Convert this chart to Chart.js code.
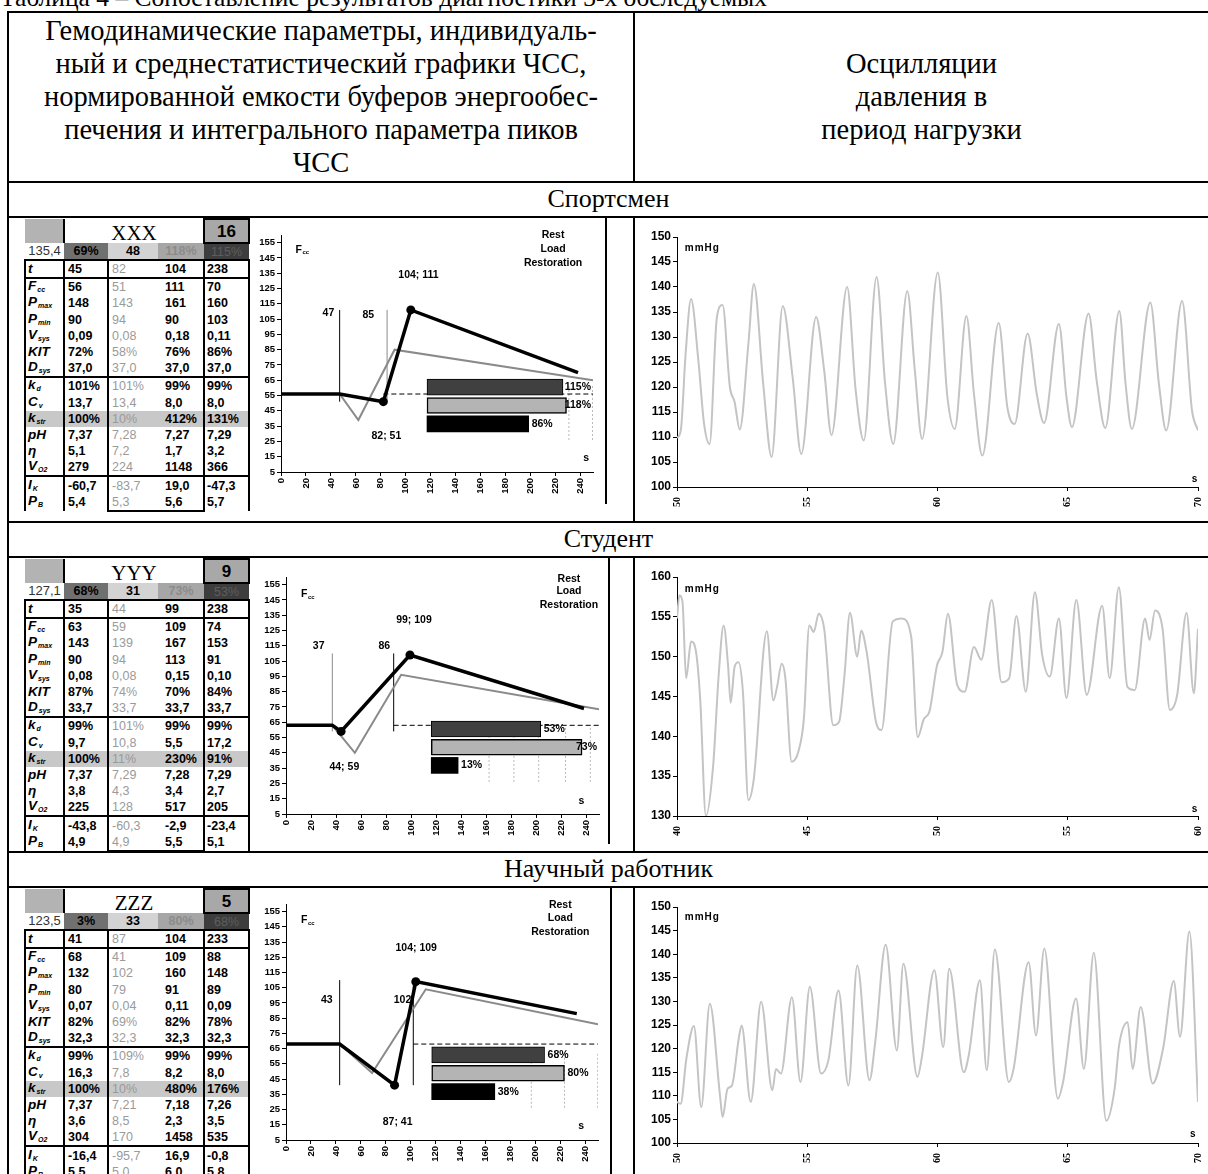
<!DOCTYPE html>
<html lang="ru">
<head>
<meta charset="utf-8">
<title>Таблица 4</title>
<script src="https://cdn.jsdelivr.net/npm/chart.js@4.4.1/dist/chart.umd.min.js"></script>
<style>
  html, body { margin: 0; padding: 0; background: #fff; }
  body { width: 1208px; height: 1174px; position: relative; overflow: hidden;
         font-family: "Liberation Serif", "Times New Roman", serif; color: #000; }
  .ln { position: absolute; background: #000; }
  .txt { position: absolute; white-space: nowrap; text-align: center; }
  canvas { position: absolute; }
  table.dt { position: absolute; left: 24px; width: 224px; border-collapse: collapse; table-layout: fixed;
             font-family: "Liberation Sans", Arial, sans-serif; }
  table.dt td { padding: 0 0 0 3px; height: 16.2px; font-size: 12.5px; font-weight: bold; line-height: 12px;
                white-space: nowrap; overflow: hidden; vertical-align: middle; }
  table.dt tr.hr1 td { height: 22px; }
  table.dt tr.hr2 td { height: 15px; padding: 0 2px; text-align: center; }
  table.dt td.g0 { background: #b3b3b3; }
  table.dt td.code { text-align: center; font: 21px/20px "Liberation Serif", serif; border-left: 2px solid #000;
                     vertical-align: bottom; padding: 0; }
  table.dt td.score { background: #a8a8a8; border: 2px solid #000; text-align: center; font-size: 17px;
                      line-height: 17px; padding: 0; }
  table.dt td.h0 { background: #fff; color: #333; font-weight: normal; font-size: 13px; }
  table.dt td.h1 { background: #707070; color: #000; }
  table.dt td.h2 { background: #d3d3d3; color: #000; }
  table.dt td.h3 { background: #a6a6a6; color: #8c8c8c; }
  table.dt td.h4 { background: #3d3d3d; color: #5e5e5e; font-weight: normal; }
  table.dt td.lab { border-left: 2px solid #000; border-right: 2px solid #000; font-style: italic;
                    font-size: 13.5px; padding-left: 2px; }
  table.dt td.lab sub { font-size: 7px; font-style: italic; vertical-align: baseline; position: relative;
                        top: 2px; margin-left: 1px; }
  table.dt td.v1 { border-right: 2px solid #000; }
  table.dt td.v2 { color: #9a9a9a; font-weight: normal; }
  table.dt td.v3 { border-right: 2px solid #000; padding-left: 7px; }
  table.dt td.v4 { border-right: 2px solid #000; padding-left: 2px; }
  table.dt tr.tl td { border-top: 2px solid #000; }
  table.dt tr.str td { background: #c8c8c8; }
  table.dt tr.last td.v2, table.dt tr.last td.v3 { border-bottom: 2px solid #000; }
</style>
</head>
<body>

<div class="txt" style="left:0;top:-17px;font-size:25.5px;text-align:left">Таблица 4 – Сопоставление результатов диагностики 3-х обследуемых</div>

<!-- outer frame of the table -->
<div class="ln" style="left:7px;top:11px;width:1201px;height:2px"></div>
<div class="ln" style="left:7px;top:11px;width:2px;height:1163px"></div>
<div class="ln" style="left:633px;top:11px;width:2px;height:171px"></div>
<div class="ln" style="left:7px;top:181px;width:1201px;height:2px"></div>
<div class="ln" style="left:7px;top:216px;width:1201px;height:2px"></div>
<div class="ln" style="left:7px;top:521px;width:1201px;height:2px"></div>
<div class="ln" style="left:7px;top:556px;width:1201px;height:2px"></div>
<div class="ln" style="left:7px;top:851px;width:1201px;height:2px"></div>
<div class="ln" style="left:7px;top:886px;width:1201px;height:2px"></div>
<div class="ln" style="left:633px;top:216px;width:2px;height:306px"></div>
<div class="ln" style="left:633px;top:556px;width:2px;height:296px"></div>
<div class="ln" style="left:633px;top:886px;width:2px;height:288px"></div>
<!-- right edges of the embedded pictures -->
<div class="ln" style="left:605px;top:216px;width:2px;height:288px"></div>
<div class="ln" style="left:608px;top:556px;width:2px;height:288px"></div>
<div class="ln" style="left:610px;top:886px;width:2px;height:288px"></div>

<div class="txt" style="left:9px;width:624px;top:14px;font-size:28.5px;line-height:33px">
  Гемодинамические параметры, индивидуаль-<br>ный и среднестатистический графики ЧСС,<br>нормированной емкости буферов энергообес-<br>печения и интегрального параметра пиков<br>ЧСС
</div>
<div class="txt" style="left:635px;width:573px;top:47px;font-size:28.5px;line-height:33px">
  Осцилляции<br>давления в<br>период нагрузки
</div>
<div class="txt" style="left:9px;width:1199px;top:182px;font-size:26px;line-height:34px">Спортсмен</div>
<div class="txt" style="left:9px;width:1199px;top:522px;font-size:26px;line-height:34px">Студент</div>
<div class="txt" style="left:9px;width:1199px;top:852px;font-size:26px;line-height:34px">Научный работник</div>

<div id="tables"></div>

<canvas id="hr1" width="356" height="286" style="left:250px;top:218px"></canvas>
<canvas id="hr2" width="359" height="284" style="left:250px;top:558px"></canvas>
<canvas id="hr3" width="360" height="286" style="left:250px;top:888px"></canvas>
<canvas id="bp1" width="572" height="303" style="left:636px;top:218px"></canvas>
<canvas id="bp2" width="572" height="294" style="left:636px;top:558px"></canvas>
<canvas id="bp3" width="572" height="286" style="left:636px;top:888px"></canvas>

<script>
// ---------- tables: row names ----------
const rowLabels = [['t',''],['F','cc'],['P','max'],['P','min'],['V','sys'],['KIT',''],['D','sys'],
                   ['k','d'],['C','v'],['k','str'],['pH',''],['η',''],['V','O2'],['I','K'],['P','B']];
const topLineRows = [0, 1, 7, 13];

// ---------- Спортсмен ----------
const sportCode = 'XXX', sportScore = '16';
const sportHead = ['135,4', '69%', '48', '118%', '115%'];
const sportRows = [
  ['45','82','104','238'], ['56','51','111','70'], ['148','143','161','160'], ['90','94','90','103'],
  ['0,09','0,08','0,18','0,11'], ['72%','58%','76%','86%'], ['37,0','37,0','37,0','37,0'],
  ['101%','101%','99%','99%'], ['13,7','13,4','8,0','8,0'], ['100%','10%','412%','131%'],
  ['7,37','7,28','7,27','7,29'], ['5,1','7,2','1,7','3,2'], ['279','224','1148','366'],
  ['-60,7','-83,7','19,0','-47,3'], ['5,4','5,3','5,6','5,7']
];
const sportIndT = [0, 47, 82, 104, 238];
const sportIndF = [56, 56, 51, 111, 70];
const sportAvgT = [0, 47, 62, 91, 250];
const sportAvgF = [56, 56, 39, 85, 65];
const sportMarkT = [47, 85], sportMarkLow = [51, 51], sportMarkHigh = [111, 111];
const sportBars = [115, 118, 86];
const sportBarGrid = [120, 140];
const sportPT = [50.00,50.15,50.33,50.54,50.82,51.04,51.25,51.53,51.75,52.03,52.21,52.41,52.74,52.95,53.31,53.63,
  54.06,54.44,54.77,55.34,55.65,55.93,56.53,56.86,57.17,57.66,57.99,58.30,58.84,59.13,59.41,60.01,60.38,60.66,
  61.11,61.40,61.72,62.35,62.68,62.96,63.46,63.81,64.09,64.66,64.95,65.16,65.80,66.11,66.44,66.98,67.22,67.46,
  68.17,68.50,68.78,69.39,69.77,70.00];
const sportP = [109.8,111.5,126.6,137.6,125.3,112.6,108.6,133.9,136.4,120.0,117.0,111.5,128.6,140.6,120.6,106.0,
  136.2,121.9,106.6,134.0,123.3,110.4,140.0,119.3,109.3,142.0,120.6,108.6,139.2,123.3,109.6,142.9,118.0,111.6,
  134.2,118.6,106.3,132.8,116.0,112.6,130.7,118.6,112.8,132.6,118.0,112.0,134.7,121.3,111.8,135.2,120.6,111.6,
  136.9,120.6,111.3,137.2,115.3,111.3];

// ---------- Студент ----------
const stuCode = 'YYY', stuScore = '9';
const stuHead = ['127,1', '68%', '31', '73%', '53%'];
const stuRows = [
  ['35','44','99','238'], ['63','59','109','74'], ['143','139','167','153'], ['90','94','113','91'],
  ['0,08','0,08','0,15','0,10'], ['87%','74%','70%','84%'], ['33,7','33,7','33,7','33,7'],
  ['99%','101%','99%','99%'], ['9,7','10,8','5,5','17,2'], ['100%','11%','230%','91%'],
  ['7,37','7,29','7,28','7,29'], ['3,8','4,3','3,4','2,7'], ['225','128','517','205'],
  ['-43,8','-60,3','-2,9','-23,4'], ['4,9','4,9','5,5','5,1']
];
const stuIndT = [0, 37, 44, 99, 238];
const stuIndF = [63, 63, 59, 109, 74];
const stuAvgT = [0, 37, 55, 92, 250];
const stuAvgF = [63, 63, 45, 96, 73.5];
const stuMarkT = [37, 86], stuMarkLow = [59, 59], stuMarkHigh = [110, 110];
const stuBars = [53, 73, 13];
const stuBarGrid = [28, 40, 52, 65, 77];
const stuPT = [40.00,40.09,40.21,40.35,40.54,40.72,40.89,41.11,41.39,41.60,41.79,41.96,42.06,42.21,42.36,42.53,
  42.74,42.95,43.45,43.70,43.84,44.02,44.16,44.40,44.66,44.87,45.08,45.25,45.44,45.65,46.00,46.22,46.43,46.64,
  46.92,47.07,47.28,47.64,47.85,48.28,48.63,48.99,49.24,49.48,49.69,49.98,50.19,50.40,50.76,51.04,51.40,51.68,
  52.08,52.46,52.75,53.03,53.39,53.74,54.02,54.31,54.66,54.95,55.33,55.73,56.32,56.61,56.96,57.29,57.57,57.97,
  58.14,58.35,58.64,58.92,59.20,59.56,59.84,60.00];
const stuP = [154.8,157.7,156.9,147.3,151.9,150.8,144.7,130.0,136.4,147.7,153.9,148.9,144.2,148.7,149.3,145.6,
  132.0,134.7,153.2,144.5,146.2,149.1,147.3,136.8,138.1,142.2,153.9,153.1,155.4,153.5,141.4,141.8,147.7,155.5,
  150.0,153.3,150.6,141.8,140.8,154.4,154.8,152.5,139.9,142.2,143.1,148.9,150.6,155.4,146.4,145.6,151.2,149.6,
  157.1,146.8,147.3,155.1,145.6,158.1,150.2,147.5,154.8,144.8,157.1,145.2,156.4,147.3,158.7,146.2,145.8,154.8,
  152.1,155.8,153.5,143.3,145.2,155.5,145.4,153.5];

// ---------- Научный работник ----------
const sciCode = 'ZZZ', sciScore = '5';
const sciHead = ['123,5', '3%', '33', '80%', '68%'];
const sciRows = [
  ['41','87','104','233'], ['68','41','109','88'], ['132','102','160','148'], ['80','79','91','89'],
  ['0,07','0,04','0,11','0,09'], ['82%','69%','82%','78%'], ['32,3','32,3','32,3','32,3'],
  ['99%','109%','99%','99%'], ['16,3','7,8','8,2','8,0'], ['100%','10%','480%','176%'],
  ['7,37','7,21','7,18','7,26'], ['3,6','8,5','2,3','3,5'], ['304','170','1458','535'],
  ['-16,4','-95,7','16,9','-0,8'], ['5,5','5,0','6,0','5,8']
];
const sciIndT = [0, 43, 87, 104, 233];
const sciIndF = [68, 68, 41, 109, 88];
const sciAvgT = [0, 43, 69, 112, 250];
const sciAvgF = [68, 68, 49, 104, 81];
const sciMarkT = [43, 102], sciMarkLow = [41, 41], sciMarkHigh = [110, 110];
const sciBars = [68, 80, 38];
const sciBarGrid = [60, 80, 100];
const sciPT = [50.00,50.14,50.36,50.65,50.93,51.26,51.65,51.75,51.94,52.11,52.37,52.48,52.83,53.23,53.66,53.80,
  53.99,54.41,54.74,55.10,55.53,55.81,56.20,56.58,56.92,57.39,57.61,58.01,58.44,58.69,59.23,59.40,59.88,60.22,
  60.45,61.01,61.20,61.63,61.89,62.20,62.74,62.92,63.50,63.78,64.10,64.62,64.82,65.32,65.62,66.00,66.48,66.80,
  66.97,67.30,67.49,67.80,68.26,68.66,69.07,69.31,69.67,70.00];
const sciP = [108.7,108.3,117.9,124.8,107.6,129.5,110.1,105.5,111.5,112.2,122.1,124.9,108.7,129.9,111.2,115.7,
  114.7,130.9,112.9,133.1,114.7,117.5,132.3,112.2,137.6,113.3,121.4,142.0,119.6,138.0,114.0,118.2,136.6,120.3,
  136.9,115.0,118.6,134.5,115.4,141.0,112.9,115.7,138.3,122.8,141.2,109.4,112.9,130.6,115.7,140.3,104.7,111.5,
  120.7,125.6,115.7,128.8,112.6,120.0,134.3,122.5,144.8,108.7];

// ---------- axis ticks ----------
const hrXTicks = [0, 20, 40, 60, 80, 100, 120, 140, 160, 180, 200, 220, 240];
const hrYTicks = [5, 15, 25, 35, 45, 55, 65, 75, 85, 95, 105, 115, 125, 135, 145, 155];
const barFill = ['#404040', '#b4b4b4', '#000000'];

// ---------- build the three small tables ----------
function buildTable(top, code, score, head, rows) {
  let h = `<table class="dt" style="top:${top}px">` +
    '<colgroup><col style="width:39px"><col style="width:44px"><col style="width:50px"><col style="width:46px"><col style="width:45px"></colgroup>' +
    `<tr class="hr1"><td class="g0"></td><td colspan="3" class="code">${code}</td><td class="score">${score}</td></tr>` +
    '<tr class="hr2">' + head.map((v, i) => `<td class="h${i}">${v}</td>`).join('') + '</tr>';
  rows.forEach((r, ri) => {
    const [a, b] = rowLabels[ri];
    const cls = [];
    if (topLineRows.includes(ri)) cls.push('tl');
    if (ri === 9) cls.push('str');
    if (ri === rows.length - 1) cls.push('last');
    h += `<tr class="${cls.join(' ')}"><td class="lab">${a}${b ? '<sub>' + b + '</sub>' : ''}</td>` +
         r.map((v, i) => `<td class="v${i + 1}">${v}</td>`).join('') + '</tr>';
  });
  return h + '</table>';
}
document.getElementById('tables').innerHTML =
  buildTable(218, sportCode, sportScore, sportHead, sportRows) +
  buildTable(558, stuCode, stuScore, stuHead, stuRows) +
  buildTable(888, sciCode, sciScore, sciHead, sciRows);

// ---------- charts ----------
Chart.defaults.font.family = '"Liberation Sans", Arial, sans-serif';
Chart.defaults.color = '#000';
Chart.defaults.animation = false;

const xy = (xs, ys) => xs.map((x, i) => ({ x, y: ys[i] }));
const noteFont = 'bold 10.5px "Liberation Sans"';

// text notes placed in data coordinates + value labels at the bar ends
const notesPlugin = {
  id: 'notes',
  afterDatasetsDraw(chart, _a, opts) {
    const { ctx, chartArea } = chart;
    ctx.save();
    ctx.textBaseline = 'middle';
    (opts.items || []).forEach(n => {
      const px = chart.scales.x.getPixelForValue(n.x);
      const py = chart.scales.y.getPixelForValue(n.y);
      ctx.font = n.font || noteFont;
      ctx.letterSpacing = n.spacing || '0px';
      ctx.fillStyle = '#000';
      ctx.textAlign = n.align || 'left';
      ctx.fillText(n.text, px, py);
      if (n.sub) {
        const w = ctx.measureText(n.text).width;
        ctx.font = 'bold 6px "Liberation Sans"';
        ctx.fillText(n.sub, px + w + 0.5, py + 3);
      }
    });
    ctx.letterSpacing = '0px';
    chart.data.datasets.forEach((ds, di) => {
      if (ds.type !== 'bar') return;
      chart.getDatasetMeta(di).data.forEach((el, i) => {
        const txt = ds.data[i].x + '%';
        ctx.font = noteFont;
        ctx.textAlign = 'left';
        const w = ctx.measureText(txt).width;
        const px = Math.min(el.x + 3, chartArea.right - w - 2);
        ctx.fillText(txt, px, el.y);
      });
    });
    ctx.restore();
  }
};

// helper scale for the inset bar chart: laid out like a real axis but with zero size
const fixedScale = (axis, min, max, reverse) => ({
  type: 'linear', axis, position: axis === 'x' ? 'bottom' : 'left', display: true,
  offset: false, bounds: 'data', reverse: !!reverse, min, max,
  ticks: { display: false }, grid: { display: false, drawTicks: false }, border: { display: false },
  afterBuildTicks: a => { a.min = min; a.max = max; },
  afterFit: a => { if (axis === 'x') a.height = 0; else a.width = 0; }
});

function hrChart(id, s) {
  const datasets = [];
  s.barGrid.forEach(g => datasets.push({
    type: 'line', data: [{ x: g, y: 0.5 }, { x: g, y: 3.5 }], xAxisID: 'xb', yAxisID: 'yb',
    borderColor: '#b8b8b8', borderWidth: 1, borderDash: [2, 2], pointRadius: 0, order: 20
  }));
  datasets.push({ type: 'line', data: [{ x: s.dashFrom, y: s.indF[0] }, { x: 250, y: s.indF[0] }],
    borderColor: '#000', borderWidth: 1, borderDash: [5, 3], pointRadius: 0, order: 15 });
  s.markT.forEach((t, i) => datasets.push({
    type: 'line', data: [{ x: t, y: s.markLow[i] }, { x: t, y: s.markHigh[i] }],
    borderColor: s.markColor[i], borderWidth: 1, pointRadius: 0, order: 12
  }));
  datasets.push({ type: 'line', data: xy(s.avgT, s.avgF), borderColor: '#8a8a8a', borderWidth: 2,
    pointRadius: 0, order: 10 });
  datasets.push({ type: 'bar', indexAxis: 'y', data: s.bars.map((p, i) => ({ x: p, y: i + 1 })),
    xAxisID: 'xb', yAxisID: 'yb', backgroundColor: barFill, borderColor: '#000',
    borderWidth: [1, 1.5, 0], borderSkipped: false, barThickness: 16, order: 5 });
  datasets.push({ type: 'line', data: xy(s.indT, s.indF), borderColor: '#000', borderWidth: 3.5,
    pointRadius: s.indT.map((_, i) => (i === 2 || i === 3) ? 4.5 : 0), pointBackgroundColor: '#000',
    pointBorderWidth: 0, order: 1 });

  const axisTicks = { font: { size: 9.5, weight: 'bold' }, color: '#000', autoSkip: false, padding: 2 };
  const axisGrid = { drawOnChartArea: false, drawTicks: true, tickLength: 4, color: '#000' };
  return new Chart(document.getElementById(id), {
    type: 'line',
    data: { datasets },
    options: {
      responsive: false, animation: false, devicePixelRatio: 1,
      layout: { padding: { top: s.padTop, right: s.padRight, left: 0, bottom: 0 } },
      plugins: { legend: { display: false }, tooltip: { enabled: false }, notes: { items: s.notes } },
      scales: {
        x: { type: 'linear', position: 'bottom', min: 0, max: 250, offset: false,
             afterBuildTicks: a => { a.ticks = hrXTicks.map(v => ({ value: v })); },
             afterFit: a => { a.height = s.xh; a.paddingLeft = 0; a.paddingRight = 0; },
             ticks: { ...axisTicks, minRotation: 90, maxRotation: 90 }, grid: axisGrid, border: { color: '#000' } },
        y: { type: 'linear', position: 'left', min: 5, max: 160, offset: false,
             afterBuildTicks: a => { a.ticks = hrYTicks.map(v => ({ value: v })); },
             afterFit: a => { a.width = s.yw; },
             ticks: axisTicks, grid: axisGrid, border: { color: '#000' } },
        xb: fixedScale('x', s.barMin, s.barMax, false),
        yb: fixedScale('y', s.barTop, s.barBottom, true)
      }
    },
    plugins: [notesPlugin]
  });
}

function pressureChart(id, s) {
  return new Chart(document.getElementById(id), {
    type: 'line',
    data: { datasets: [{ data: xy(s.t, s.p), borderColor: '#c4c4c4', borderWidth: 2, pointRadius: 0,
                         cubicInterpolationMode: 'monotone' }] },
    options: {
      responsive: false, animation: false, devicePixelRatio: 1,
      layout: { padding: { top: s.padTop, right: 10, left: 0, bottom: 0 } },
      plugins: { legend: { display: false }, tooltip: { enabled: false }, notes: { items: s.notes } },
      scales: {
        x: { type: 'linear', min: s.xTicks[0], max: s.xTicks[s.xTicks.length - 1],
             afterBuildTicks: a => { a.ticks = s.xTicks.map(v => ({ value: v })); },
             afterFit: a => { a.height = s.xh; a.paddingLeft = 0; a.paddingRight = 0; },
             ticks: { font: { family: '"Liberation Serif"', size: 10, weight: 'bold' }, color: '#000',
                      minRotation: 90, maxRotation: 90, autoSkip: false, padding: 6 },
             grid: { drawOnChartArea: false, tickLength: 4, color: '#000' }, border: { color: '#000' } },
        y: { type: 'linear', min: s.yMin, max: s.yMax,
             afterFit: a => { a.width = 41; },
             ticks: { stepSize: 5, font: { family: '"Liberation Sans Narrow", "Liberation Sans"', size: 12, weight: 'bold' },
                      color: '#000', padding: 2, autoSkip: false },
             grid: { drawOnChartArea: false, tickLength: 4, color: '#000' }, border: { color: '#000' } }
      }
    },
    plugins: [notesPlugin]
  });
}

const narrow = 'bold 10px "Liberation Sans Narrow", "Liberation Sans"';

hrChart('hr1', {
  indT: sportIndT, indF: sportIndF, avgT: sportAvgT, avgF: sportAvgF,
  markT: sportMarkT, markLow: sportMarkLow, markHigh: sportMarkHigh, markColor: ['#000', '#8a8a8a'],
  dashFrom: 82, bars: sportBars, barGrid: sportBarGrid,
  barMin: -123.5, barMax: 140.4, barTop: -7.73, barBottom: 5.19,
  padTop: 17, padRight: 13, yw: 31, xh: 32,
  notes: [
    { x: 11.7, y: 150.4, text: 'F', sub: 'cc' },
    { x: 218, y: 159.8, text: 'Rest', align: 'center' },
    { x: 218, y: 150.6, text: 'Load', align: 'center' },
    { x: 218, y: 141.4, text: 'Restoration', align: 'center' },
    { x: 94, y: 133.6, text: '104; 111' },
    { x: 72.5, y: 28.2, text: '82; 51' },
    { x: 33.3, y: 108.9, text: '47' },
    { x: 65.3, y: 107.5, text: '85' },
    { x: 244.5, y: 14.4, text: 's', align: 'center' }
  ]
});
hrChart('hr2', {
  indT: stuIndT, indF: stuIndF, avgT: stuAvgT, avgF: stuAvgF,
  markT: stuMarkT, markLow: stuMarkLow, markHigh: stuMarkHigh, markColor: ['#8a8a8a', '#000'],
  dashFrom: 86, bars: stuBars, barGrid: stuBarGrid,
  barMin: -70.3, barMax: 81.2, barTop: -7.79, barBottom: 5.23,
  padTop: 19, padRight: 10, yw: 36, xh: 28,
  notes: [
    { x: 12, y: 148.5, text: 'F', sub: 'cc' },
    { x: 226, y: 158.3, text: 'Rest', align: 'center' },
    { x: 226, y: 150.9, text: 'Load', align: 'center' },
    { x: 226, y: 141.9, text: 'Restoration', align: 'center' },
    { x: 88, y: 132.1, text: '99; 109' },
    { x: 34.7, y: 35.7, text: '44; 59' },
    { x: 21.4, y: 114.6, text: '37' },
    { x: 73.9, y: 114.6, text: '86' },
    { x: 236, y: 13.7, text: 's', align: 'center' }
  ]
});
hrChart('hr3', {
  indT: sciIndT, indF: sciIndF, avgT: sciAvgT, avgF: sciAvgF,
  markT: sciMarkT, markLow: sciMarkLow, markHigh: sciMarkHigh, markColor: ['#000', '#000'],
  dashFrom: 102, bars: sciBars, barGrid: sciBarGrid,
  barMin: -87.8, barMax: 100.2, barTop: -7.66, barBottom: 5.2,
  padTop: 16, padRight: 12, yw: 36, xh: 34,
  notes: [
    { x: 12, y: 149.5, text: 'F', sub: 'cc' },
    { x: 219.8, y: 159.4, text: 'Rest', align: 'center' },
    { x: 219.8, y: 150.6, text: 'Load', align: 'center' },
    { x: 219.8, y: 141.4, text: 'Restoration', align: 'center' },
    { x: 87.7, y: 131, text: '104; 109' },
    { x: 77.5, y: 17, text: '87; 41' },
    { x: 28, y: 97, text: '43' },
    { x: 86.3, y: 97, text: '102' },
    { x: 236.5, y: 14.4, text: 's', align: 'center' }
  ]
});

pressureChart('bp1', {
  t: sportPT, p: sportP, xTicks: [50, 55, 60, 65, 70], yMin: 100, yMax: 150, padTop: 19, xh: 34,
  notes: [{ x: 50.3, y: 147.7, text: 'mmHg', font: narrow, spacing: '1px' },
          { x: 69.87, y: 101.5, text: 's', align: 'center', font: narrow }]
});
pressureChart('bp2', {
  t: stuPT, p: stuP, xTicks: [40, 45, 50, 55, 60], yMin: 130, yMax: 160, padTop: 19, xh: 36,
  notes: [{ x: 40.3, y: 158.5, text: 'mmHg', font: narrow, spacing: '1px' },
          { x: 59.87, y: 130.9, text: 's', align: 'center', font: narrow }]
});
pressureChart('bp3', {
  t: sciPT, p: sciP, xTicks: [50, 55, 60, 65, 70], yMin: 100, yMax: 150, padTop: 19, xh: 31,
  notes: [{ x: 50.3, y: 147.9, text: 'mmHg', font: narrow, spacing: '1px' },
          { x: 69.8, y: 101.8, text: 's', align: 'center', font: narrow }]
});
</script>
</body>
</html>
